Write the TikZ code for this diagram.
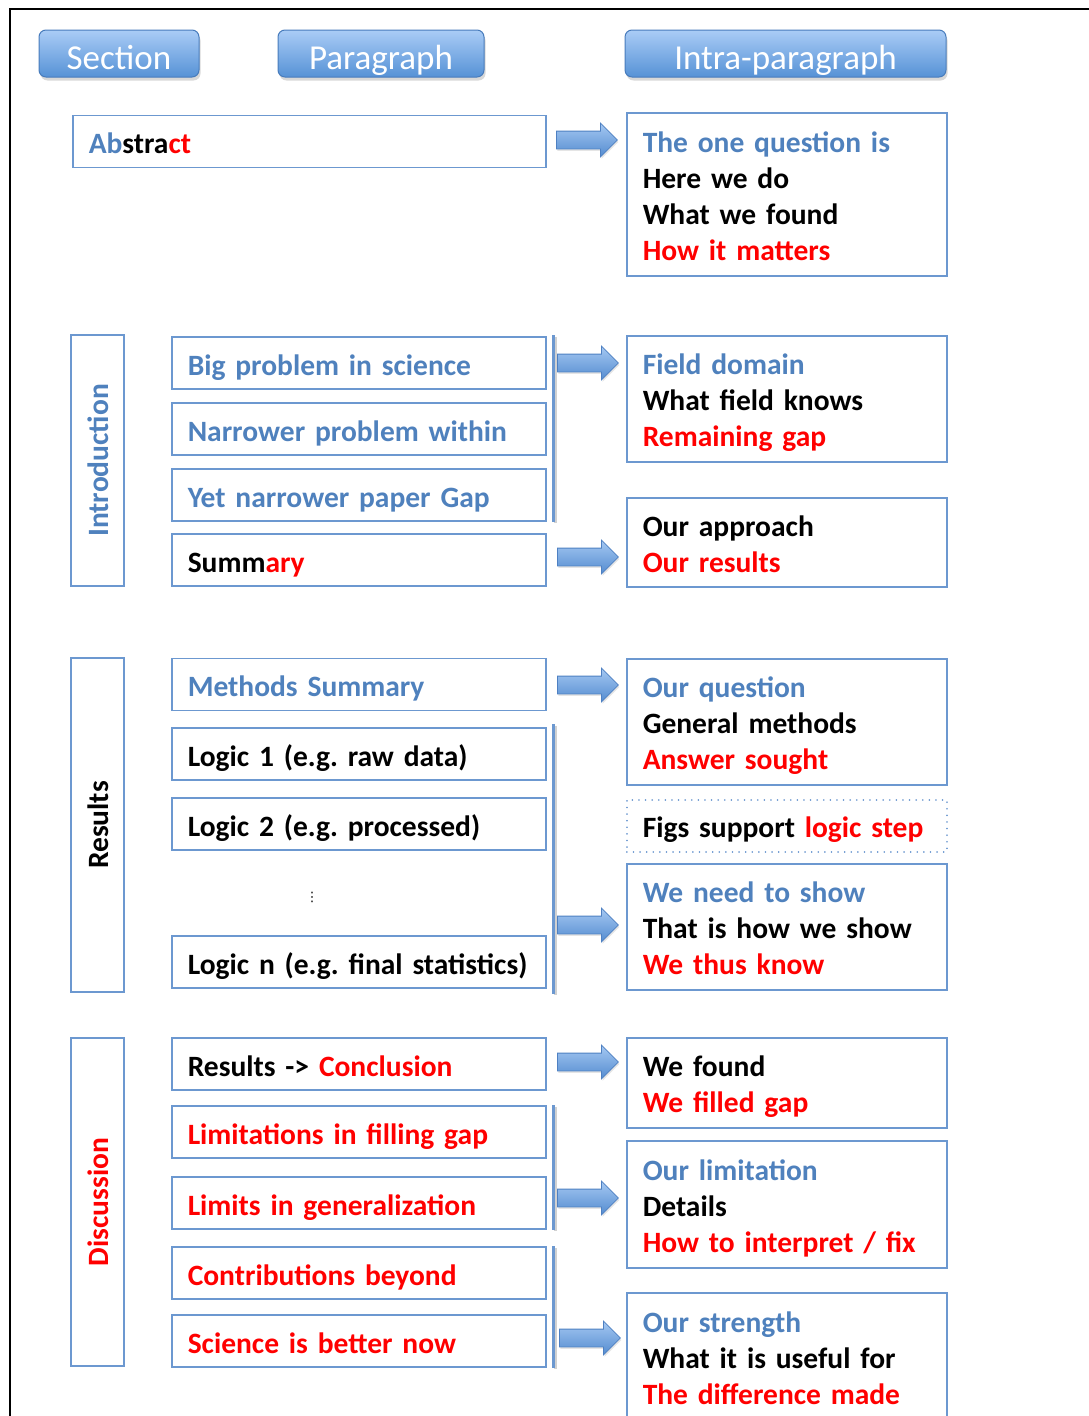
\documentclass[tikz,border=0pt]{standalone}
\usepackage{fontspec}
\setmainfont{Carlito}
\newfontfamily\djv{DejaVu Sans}
\usetikzlibrary{shapes.arrows,shadows,calc}
\definecolor{boxblue}{RGB}{108,152,208}
\definecolor{txtblue}{RGB}{79,129,189}
\definecolor{hdrtop}{RGB}{170,204,246}
\definecolor{hdrbot}{RGB}{86,146,214}
\definecolor{hdrdraw}{RGB}{72,124,188}
\definecolor{arrtop}{RGB}{165,200,242}
\definecolor{arrbot}{RGB}{84,140,208}
\definecolor{arrdraw}{RGB}{78,128,194}
\definecolor{pred}{RGB}{255,0,0}
\newcommand{\tb}[1]{\textcolor{txtblue}{#1}}
\newcommand{\tr}[1]{\textcolor{pred}{#1}}
\frenchspacing
\tikzset{
  every node/.style={font=\bfseries\fontsize{29.5}{36}\selectfont},
  pbox/.style={draw=boxblue, line width=1.5pt, minimum width=374pt, minimum height=52pt,
    anchor=west, inner xsep=16pt, inner ysep=0pt, text width=342pt, align=left,
    text height=27pt, text depth=3pt},
  rbox/.style={draw=boxblue, line width=1.5pt, minimum width=320pt, anchor=north west,
    inner xsep=16pt, inner ysep=0pt, text width=288pt, align=left,
    text height=27pt, text depth=3pt},
  two lines/.style={text depth=39pt},
  three lines/.style={text depth=75pt},
  four lines/.style={text depth=111pt},
  dbox/.style={rbox, draw=boxblue, line width=1.6pt, dash pattern=on 0.1pt off 6.5pt, line cap=round},
  sbox/.style={draw=boxblue, line width=1.5pt, rotate=90, minimum height=53pt, inner sep=0pt,
    text height=25pt, text depth=4pt},
  hdr/.style={rounded corners=7pt, draw=hdrdraw, line width=1pt, top color=hdrtop, bottom color=hdrbot,
    text=white, font=\fontsize{35}{40}\selectfont, minimum height=47pt, inner sep=0pt,
    text height=31pt, text depth=0pt,
    drop shadow={opacity=0.3, shadow xshift=1.5pt, shadow yshift=-3.5pt}},
  barrow/.style={single arrow, draw=arrdraw, line width=0.8pt, top color=arrtop, bottom color=arrbot,
    minimum height=61pt, single arrow head extend=8pt, single arrow tip angle=90,
    inner xsep=0pt, inner ysep=8.5pt, text height=0pt, text depth=0pt, anchor=tail,
    drop shadow={opacity=0.2, shadow xshift=1pt, shadow yshift=-2pt}},
  vbar/.style={draw=boxblue, line width=3pt,
    preaction={draw=black!18, line width=3pt, transform canvas={xshift=1.5pt, yshift=-1.5pt}}},
}
\begin{document}
\begin{tikzpicture}[x=1pt, y=-1pt]
\useasboundingbox (0,0) rectangle (1088,1416);
\fill[white] (0,0) rectangle (1088,1416);
% page frame
\draw[black, line width=2pt] (10,1420) -- (10,9) -- (1092,9);

% headers
\node[hdr, minimum width=160pt] (hsec) at (119,53.5) {Section};
\node[hdr, minimum width=206pt] (hpar) at (381,53.5) {Paragraph};
\node[hdr, minimum width=321pt] (hintra) at (785.5,53.5) {Intra-paragraph};

% Abstract
\node[pbox, minimum width=473pt, text width=441pt] (abs) at (72,141.5) {\tb{Ab}stra\tr{ct}};
\node[rbox, four lines, minimum height=163pt] (r0) at (626,112) {\tb{The one question is}\\Here we do\\What we found\\\tr{How it matters}};
\node[barrow] (a0) at (556,140) {};

% Introduction
\node[sbox, minimum width=251pt, text=txtblue] (intro) at (97.5,460.5) {Introduction};
\node[pbox] (big) at (171,363) {\tb{Big problem in science}};
\node[pbox] (narrow) at (171,429) {\tb{Narrower problem within}};
\node[pbox] (yet) at (171,495) {\tb{Yet narrower paper Gap}};
\node[pbox] (summ) at (171,560) {Summ\tr{ary}};
\draw[vbar] ([xshift=7pt,yshift=1pt]big.north east) -- ([xshift=7pt]yet.south east);
\node[rbox, three lines, minimum height=126pt] (r1) at (626,335) {\tb{Field domain}\\What field knows\\\tr{Remaining gap}};
\node[rbox, two lines, minimum height=89pt] (r2) at (626,497) {Our approach\\\tr{Our results}};
\node[barrow] (a1) at (557,363) {};
\node[barrow] (a2) at (557,557) {};

% Results
\node[sbox, minimum width=334pt] (res) at (97.5,825) {Results};
\node[pbox] (meth) at (171,684.5) {\tb{Methods Summary}};
\node[pbox] (l1) at (171,754) {Logic 1 (e.g. raw data)};
\node[pbox] (l2) at (171,824) {Logic 2 (e.g. processed)};
\node[font=\djv\fontsize{13}{13}\selectfont, inner sep=0pt] (dots) at (312,897) {⋮};
\node[pbox] (ln) at (171,962) {\mbox{Logic n (e.g. final statistics)}};
\draw[vbar] ([xshift=7pt,yshift=3pt]l1.north east) -- ([xshift=7pt,yshift=-5pt]ln.south east);
\node[rbox, three lines, minimum height=126pt] (r3) at (626,658) {\tb{Our question}\\General methods\\\tr{Answer sought}};
\node[dbox, minimum height=52pt] (d1) at (626,799) {Figs support \tr{logic step}};
\node[rbox, three lines, minimum height=126pt] (r4) at (626,863) {\tb{We need to show}\\That is how we show\\\tr{We thus know}};
\node[barrow] (a3) at (557,685) {};
\node[barrow] (a4) at (557,925) {};

% Discussion
\node[sbox, minimum width=328pt, text=pred] (disc) at (97.5,1202) {Discussion};
\node[pbox] (rc) at (171,1064) {Results -> \tr{Conclusion}};
\node[pbox] (lim1) at (171,1132) {\tr{Limitations in filling gap}};
\node[pbox] (lim2) at (171,1203) {\tr{Limits in generalization}};
\node[pbox] (contrib) at (171,1273) {\tr{Contributions beyond}};
\node[pbox] (sci) at (171,1341) {\tr{Science is better now}};
\draw[vbar] ([xshift=7pt]lim1.north east) -- ([xshift=7pt]lim2.south east);
\draw[vbar] ([xshift=7pt]contrib.north east) -- ([xshift=7pt]sci.south east);
\node[rbox, two lines, minimum height=90pt] (r5) at (626,1037) {We found\\\tr{We filled gap}};
\node[rbox, three lines, minimum height=127pt] (r6) at (626,1140) {\tb{Our limitation}\\Details\\\tr{How to interpret / fix}};
\node[rbox, three lines, minimum height=128pt] (r7) at (626,1292) {\tb{Our strength}\\What it is useful for\\\tr{The difference made}};
\node[barrow] (a5) at (557,1062) {};
\node[barrow] (a6) at (557,1198) {};
\node[barrow] (a7) at (559,1338) {};
\end{tikzpicture}
\end{document}
